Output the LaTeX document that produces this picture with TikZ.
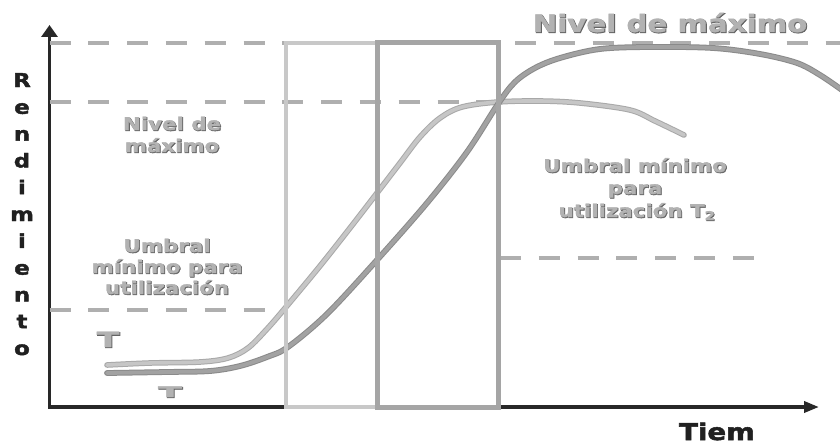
\documentclass[tikz,border=0pt]{standalone}
\usepackage{fontspec}
\usepackage{graphicx}
\setmainfont{DejaVu Sans}
\usetikzlibrary{arrows.meta}

% stretched heavy lettering; the shade variant is stroked to form an outline
\newfontfamily\facefont[FakeStretch=1.22,FakeBold=1.2]{DejaVu Sans}
\newfontfamily\shadefont[FakeStretch=1.22,FakeBold=3.2]{DejaVu Sans}
\newfontfamily\inkfont[FakeStretch=1.2,FakeBold=2.2]{DejaVu Sans}

\definecolor{axisgray}{RGB}{40,40,40}
\definecolor{dashgray}{RGB}{175,175,175}
\definecolor{lightbox}{RGB}{200,200,200}
\definecolor{darkbox}{RGB}{165,165,165}
\definecolor{curveA}{RGB}{198,198,198}
\definecolor{curveAedge}{RGB}{168,168,168}
\definecolor{curveB}{RGB}{162,162,162}
\definecolor{curveBedge}{RGB}{138,138,138}
\definecolor{labelgray}{RGB}{178,178,178}
\definecolor{labelshade}{RGB}{100,100,100}
\definecolor{inkdark}{RGB}{32,32,32}

\tikzset{
  axisline/.style={draw=axisgray, line width=3.5pt},
  dashline/.style={draw=dashgray, line width=4pt, dash pattern=on 21pt off 17.8pt},
  lightframe/.style={draw=lightbox, line width=4pt},
  darkframe/.style={draw=darkbox, line width=5pt},
  curvelight/.style={draw=curveAedge, line width=1pt, double=curveA, double distance=3.6pt, line cap=round},
  curvedark/.style={draw=curveBedge, line width=1pt, double=curveB, double distance=3.8pt, line cap=round},
  embshade/.style={anchor=base, inner sep=0pt, text=labelshade, xshift=0.8pt, yshift=-0.8pt},
  embface/.style={anchor=base, inner sep=0pt, text=labelgray},
  inklabel/.style={anchor=base, inner sep=0pt, text=inkdark},
}

% embossed grey label: name, position, font size, text
\newcommand\emblabel[4]{%
  \node[embshade] (#1s) at #2 {\shadefont\bfseries\fontsize{#3}{#3}\selectfont #4};
  \node[embface] (#1) at #2 {\facefont\bfseries\fontsize{#3}{#3}\selectfont #4};
}

\begin{document}
\begin{tikzpicture}[x=1pt, y=-1pt]
  \fill[white] (0,0) rectangle (840,444);
  \useasboundingbox (0,0) rectangle (840,444);

  % axes
  \coordinate (ytop) at (49.5,25);
  \coordinate (origin) at (49.5,407);
  \coordinate (xend) at (819,407);
  \draw[axisline, {Triangle[length=12pt,width=16pt]}-{Triangle[length=15pt,width=11pt]}]
    (ytop) -- (origin) -- (xend);

  % reference levels
  \draw[dashline] (49.5,43) -- (840,43);
  \draw[dashline] (49.5,102) -- (498,102);
  \draw[dashline] (49.5,310) -- (280,310);
  \draw[dashline] (500,258) -- (755,258);

  % performance curves
  \draw[curvelight] plot[smooth, tension=0.55] coordinates {
    (107,365) (150,363) (200,362) (228,358) (248,348) (267,329) (286,307)
    (320,266) (350,228) (377,193) (400,163) (420,137) (440,118) (462,107)
    (498,102) (540,101) (580,103) (630,110) (655,121) (684,135)};
  \draw[curvedark] plot[smooth, tension=0.55] coordinates {
    (107,373) (167,372) (210,371) (240,366) (267,357) (288,347) (327,314)
    (377,260) (427,203) (467,152) (498,104) (515,82) (535,68) (560,58)
    (600,49) (650,47) (713,48) (760,54) (797,63) (820,75) (842,90)};

  % time windows
  \draw[lightframe] (286,43) rectangle (377,407);
  \draw[darkframe] (377,43) rectangle (498,407);

  % axis titles
  \foreach \ch [count=\k from 0] in {R,e,n,d,i,m,i,e,n,t,o}
    \node[inklabel] (ylab\k) at (22,87+26.8*\k) {\inkfont\bfseries\fontsize{19}{19}\selectfont \ch};
  \node[inklabel] (xlab) at (717,440) {\inkfont\bfseries\fontsize{23}{23}\selectfont Tiem};

  % grey labels
  \emblabel{top}{(670,32)}{24}{Nivel de máximo}
  \emblabel{nivA}{(172,130)}{17.5}{Nivel de}
  \emblabel{nivB}{(172,152)}{17.5}{máximo}
  \emblabel{umA}{(167,252)}{17.5}{Umbral}
  \emblabel{umB}{(167,273)}{17.5}{mínimo para}
  \emblabel{umC}{(167,294)}{17.5}{utilización}
  \emblabel{rgA}{(635,172)}{17.5}{Umbral mínimo}
  \emblabel{rgB}{(635,194)}{17.5}{para}
  \emblabel{rgC}{(637,217)}{17.5}{utilización T\textsubscript{2}}
  \emblabel{tA}{(108,347)}{21}{\scalebox{1.3}[1]{T}}
  \emblabel{tB}{(170,397)}{14.5}{\scalebox{2}[1]{T}}
\end{tikzpicture}
\end{document}
